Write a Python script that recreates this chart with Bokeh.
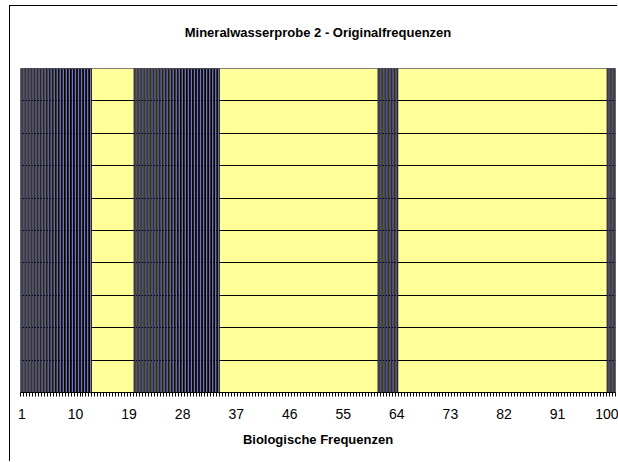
from bokeh.plotting import figure
from bokeh.models import FixedTicker, Range1d
from bokeh.embed import file_html
from bokeh.resources import INLINE

# categories (half-step frequencies 1 .. 100.5)
categories = [1 + 0.5 * i for i in range(200)]
# frequencies present (value = full scale)
present = ([1 + 0.5 * i for i in range(0, 24)] +      # 1 .. 12.5
           [20 + 0.5 * i for i in range(0, 29)] +     # 20 .. 34
           [61 + 0.5 * i for i in range(0, 7)] +      # 61 .. 64
           [99.5, 100, 100.5])
values = [10] * len(present)
tick_labels = [1, 10, 19, 28, 37, 46, 55, 64, 73, 82, 91, 100]
title_text = "Mineralwasserprobe 2 - Originalfrequenzen"

p = figure(width=608, height=456, output_backend="svg", toolbar_location=None,
           x_range=Range1d(0.75, 100.75), y_range=Range1d(0, 10),
           min_border_left=10, min_border_right=3, min_border_top=62, min_border_bottom=70,
           background_fill_color="white", border_fill_color="white")
p.styles = {"margin-left": "10px", "margin-top": "6px",
            "box-shadow": "-1px -1px 0px 0px black"}

# second (blank) line lifts the title away from the plot frame
p.title.text = title_text + "\n "
p.title.align = "center"
p.title.text_font = "Liberation Sans"
p.title.text_font_size = "13px"
p.title.text_font_style = "bold"
p.title.text_color = "black"
p.title.standoff = 28

p.background_fill_color = "#FFFF99"
p.outline_line_color = "#808080"

p.vbar(x=present, top=values, bottom=0, width=0.3,
       fill_color="#9090FF", line_color="black", line_width=1)

# y axis hidden, gridlines every unit
p.yaxis.visible = False
p.ygrid.ticker = FixedTicker(ticks=list(range(0, 11)))
p.ygrid.grid_line_color = "black"
p.ygrid.grid_line_width = 1
p.xgrid.visible = False

boundaries = [c - 0.25 for c in categories] + [categories[-1] + 0.25]
p.xaxis.ticker = FixedTicker(ticks=tick_labels, minor_ticks=boundaries)
p.xaxis.major_tick_line_color = None
p.xaxis.minor_tick_out = 4
p.xaxis.minor_tick_in = 0
p.xaxis.minor_tick_line_color = "black"
p.xaxis.axis_line_color = "black"
p.xaxis.major_label_text_font = "Liberation Sans"
p.xaxis.major_label_text_font_size = "14px"
p.xaxis.major_label_text_color = "black"
p.xaxis.major_label_standoff = 10
p.xaxis.axis_label = "Biologische Frequenzen"
p.xaxis.axis_label_text_font = "Liberation Sans"
p.xaxis.axis_label_text_font_size = "13px"
p.xaxis.axis_label_text_font_style = "bold"
p.xaxis.axis_label_text_color = "black"
p.xaxis.axis_label_standoff = 10

open("out.html", "w").write(file_html(p, INLINE))
